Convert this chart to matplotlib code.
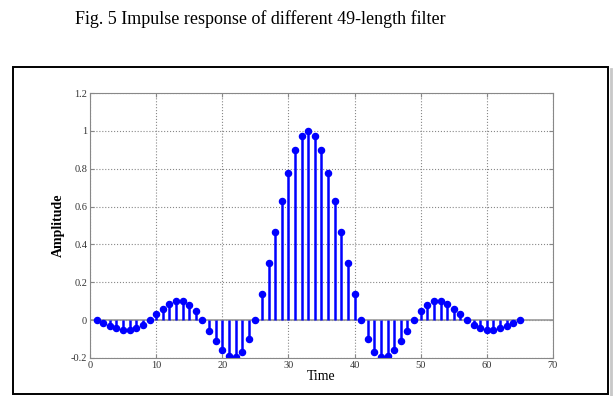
import matplotlib
matplotlib.use("Agg")
import matplotlib.pyplot as plt
from matplotlib.patches import Rectangle
from matplotlib.lines import Line2D

# sample index and impulse response values
n = list(range(1, 66))
h = [0.0, -0.015, -0.03, -0.04, -0.05, -0.05, -0.04, -0.025, 0.0,
     0.03, 0.06, 0.085, 0.10, 0.10, 0.08, 0.05, 0.0,
     -0.055, -0.11, -0.16, -0.19, -0.195, -0.17, -0.10, 0.0,
     0.14, 0.30, 0.465, 0.63, 0.78, 0.90, 0.975, 1.0,
     0.975, 0.90, 0.78, 0.63, 0.465, 0.30, 0.14, 0.0,
     -0.10, -0.17, -0.195, -0.19, -0.16, -0.11, -0.055, 0.0,
     0.05, 0.08, 0.10, 0.10, 0.085, 0.06, 0.03, 0.0,
     -0.025, -0.04, -0.05, -0.05, -0.04, -0.03, -0.015, 0.0]

xticks = [0, 10, 20, 30, 40, 50, 60, 70]
yticks = [-0.2, 0, 0.2, 0.4, 0.6, 0.8, 1.0, 1.2]
yticklabels = ["-0.2", "0", "0.2", "0.4", "0.6", "0.8", "1", "1.2"]

serif = ["Liberation Serif", "DejaVu Serif"]

fig = plt.figure(figsize=(6.14, 3.96), dpi=100)

# outer frame, with a faint shadow along the right edge
fig.lines.append(Line2D([0.9945, 0.9945], [0.003, 0.826], transform=fig.transFigure,
                        color="#c8c8c8", lw=2.0))
fig.patches.append(Rectangle((0.021, 0.006), 0.970, 0.826, transform=fig.transFigure,
                             facecolor="none", edgecolor="black", lw=1.4, zorder=1))

fig.text(0.4235, 0.953, "Fig. 5 Impulse response of different 49-length filter",
         ha="center", va="center", fontsize=13, family=serif)

ax = fig.add_axes([0.1466, 0.096, 0.754, 0.669])
ax.axhline(0, color="#999999", lw=1.2, zorder=1)
ml, sl, bl = ax.stem(n, h, linefmt="b-", markerfmt="bo", basefmt=" ")
plt.setp(sl, linewidth=1.8, color="#0000ff")
plt.setp(ml, markersize=4.4, color="#0000ff")

ax.set_xlim(0, 70)
ax.set_ylim(-0.2, 1.2)
ax.set_xticks(xticks)
ax.set_yticks(yticks)
ax.set_yticklabels(yticklabels)
ax.grid(True, linestyle=":", color="#888888", lw=0.8)
ax.set_axisbelow(True)
for s in ax.spines.values():
    s.set_color("#888888")
    s.set_linewidth(0.8)
ax.tick_params(direction="in", length=3, color="#888888", labelsize=7.5,
               labelcolor="#333333", top=True, right=True, pad=2)
for lab in ax.get_xticklabels() + ax.get_yticklabels():
    lab.set_family(serif)

ax.set_xlabel("Time", fontsize=10, family=serif, labelpad=0)
ax.set_ylabel("Amplitude", fontsize=10, family=serif, fontweight="bold", labelpad=4)

fig.savefig("out.png", dpi=100)
